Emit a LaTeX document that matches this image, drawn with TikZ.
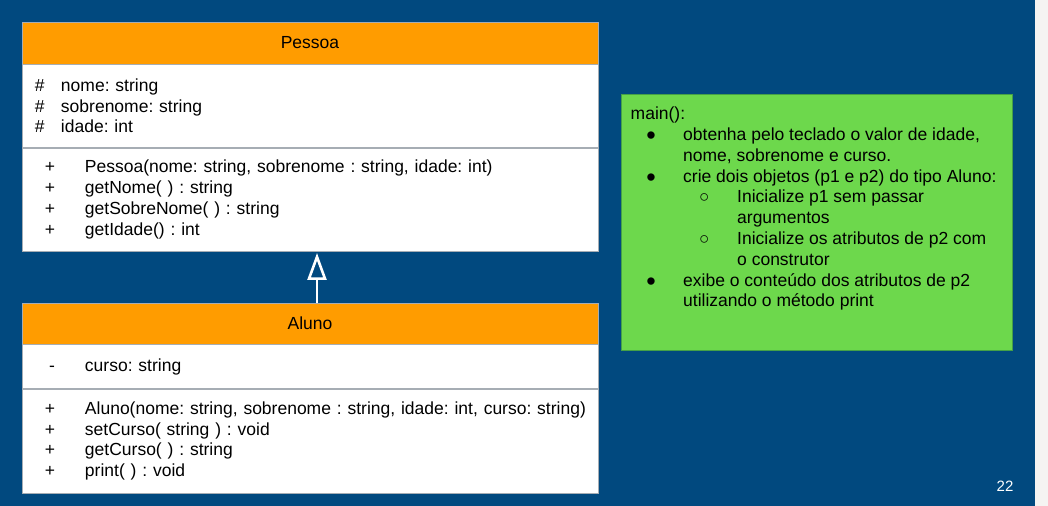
\documentclass[tikz,border=0pt]{standalone}
\usepackage{fontspec}
\setmainfont{Liberation Sans}
\usepackage{xcolor}
\usetikzlibrary{arrows.meta,positioning}

\definecolor{slideblue}{HTML}{01497F}
\definecolor{stripgray}{HTML}{F5F4F2}
\definecolor{umlorange}{HTML}{FF9C00}
\definecolor{umlline}{HTML}{A6ADB4}
\definecolor{notegreen}{HTML}{6DD84C}
\definecolor{noteline}{HTML}{45A047}

\frenchspacing
\newcommand{\umlattr}[1]{\makebox[26bp][l]{\#}\mbox{#1}}
\newcommand{\umlop}[2]{\makebox[20bp][r]{#1}\hspace*{30bp}\mbox{#2}}
\newcommand{\dotmark}{\makebox[0pt]{\raisebox{-4.5bp}{\fontsize{27bp}{27bp}\selectfont\textbullet}}}
\newcommand{\ringmark}{\makebox[0pt]{\fontsize{17bp}{17bp}\selectfont ○}}
\newcommand{\bulleted}[1]{\hspace*{20.5bp}\dotmark\hspace*{32bp}#1}
\newcommand{\itemcont}[1]{\hspace*{52.5bp}#1}
\newcommand{\subbulleted}[1]{\hspace*{73.5bp}\ringmark\hspace*{33bp}#1}
\newcommand{\subcont}[1]{\hspace*{106.5bp}#1}

\begin{document}
\begin{tikzpicture}[
  x=1bp, y=-1bp,
  txt/.style={font={\fontsize{17.5bp}{20.8bp}\selectfont}},
  header/.style={txt, draw=umlline, fill=umlorange, minimum width=576bp, inner sep=0pt},
  section/.style={txt, draw=umlline, fill=white, minimum width=576bp, text width=550bp, inner xsep=13bp, inner ysep=0pt, align=left},
  notebox/.style={draw=noteline, fill=notegreen, minimum width=391bp, minimum height=256bp, inner sep=0pt},
  notetext/.style={txt, inner sep=0pt, align=left},
  inherit/.style={-{Triangle[open, length=27bp, width=19bp]}, draw=white, line width=2.6bp, shorten >=2bp}
]
\useasboundingbox (0,0) rectangle (1048,506);
\fill[slideblue] (0,0) rectangle (1035,506);
\fill[stripgray] (1035,0) rectangle (1048,506);

\node[header, minimum height=42bp] (pessoa) at (310,43) {Pessoa};
\node[section, minimum height=83bp, below=0pt of pessoa] (pessoaattr) {\umlattr{nome: string}\\ \umlattr{sobrenome: string}\\ \umlattr{idade: int}};
\node[section, minimum height=103bp, below=0pt of pessoaattr] (pessoaops) {\umlop{+}{Pessoa(nome: string, sobrenome : string, idade: int)}\\ \umlop{+}{getNome( ) : string}\\ \umlop{+}{getSobreNome( ) : string}\\ \umlop{+}{getIdade() : int}};

\node[header, minimum height=41bp, below=52bp of pessoaops] (aluno) {Aluno};
\node[section, minimum height=44bp, below=0pt of aluno] (alunoattr) {\umlop{-}{curso: string}};
\node[section, minimum height=104bp, below=0pt of alunoattr] (alunoops) {\umlop{+}{Aluno(nome: string, sobrenome : string, idade: int, curso: string)}\\ \umlop{+}{setCurso( string ) : void}\\ \umlop{+}{getCurso( ) : string}\\ \umlop{+}{print( ) : void}};

\draw[inherit] ([xshift=7bp]aluno.north) -- ([xshift=7bp]pessoaops.south);

\node[notebox, anchor=north west] (mainbox) at (621,94) {};
\node[notetext, below right=12.8bp and 9.5bp of mainbox.north west] (maintext) {main():\\ \bulleted{obtenha pelo teclado o valor de idade,}\\ \itemcont{nome, sobrenome e curso.}\\ \bulleted{crie dois objetos (p1 e p2) do tipo Aluno:}\\ \subbulleted{Inicialize p1 sem passar}\\ \subcont{argumentos}\\ \subbulleted{Inicialize os atributos de p2 com}\\ \subcont{o construtor}\\ \bulleted{exibe o conteúdo dos atributos de p2}\\ \itemcont{utilizando o método print}};

\node[font={\fontsize{15bp}{18bp}\selectfont}, text=white, inner sep=0pt] (pagenum) at (1005,486) {22};
\end{tikzpicture}
\end{document}
